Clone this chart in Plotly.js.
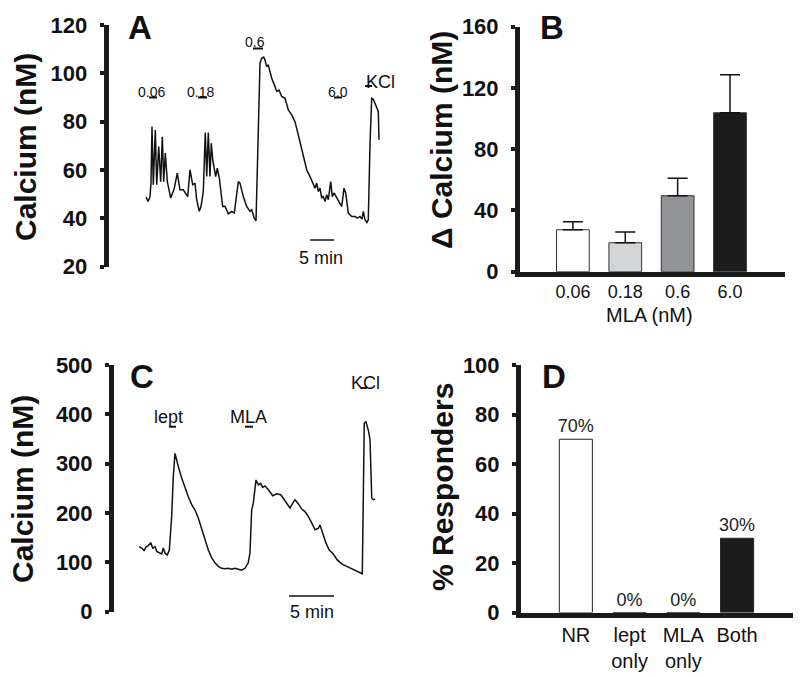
<!DOCTYPE html>
<html><head><meta charset="utf-8">
<script src="https://cdn.plot.ly/plotly-3.0.1.min.js"></script>
<style>html,body{margin:0;padding:0;background:#fff}#chart{width:800px;height:677px}</style>
</head><body><div id="chart"></div>
<script>
// ---- Panel A: calcium trace (time in min, calcium in nM)
const timeA = [0, 0.42, 0.83, 1.04, 1.25, 1.52, 1.94, 2.23, 2.65, 3.06, 3.40, 3.69, 4.02, 4.44, 5.15, 5.90, 6.52, 7.08, 7.77, 8.69,
  9.17, 9.73, 10.21, 10.56, 11.10, 11.46, 11.94, 12.35, 12.65, 12.98, 13.33, 13.60, 13.90, 14.17, 14.52, 14.85, 15.27, 15.98, 16.46, 17.15,
  17.85, 18.40, 18.90, 19.23, 19.58, 20.27, 20.98, 21.67, 22.02, 22.56, 22.92, 23.40, 23.75, 24.10, 24.52, 24.79, 25.15, 25.48, 26.19, 26.88,
  27.23, 27.71, 28.27, 28.96, 29.65, 30.35, 31.04, 31.73, 32.44, 33.13, 33.48, 34.17, 34.85, 35.21, 35.56, 35.90, 36.25, 36.60, 36.94, 37.29,
  37.65, 37.98, 38.48, 38.81, 39.17, 39.73, 40.27, 40.77, 41.25, 41.60, 42.15, 42.85, 43.54, 44.02, 44.58, 45.00, 45.27, 45.63, 46.02, 46.31,
  46.67, 47.02, 47.35, 47.71, 48.06, 48.40, 48.54];
const calciumA = [48.8, 47.0, 48.9, 54.6, 78.0, 53.9, 76.6, 53.9, 69.7, 55.2, 73.8, 55.2, 67.0, 55.2, 48.4, 52.5, 58.7, 51.8, 51.8, 49.0,
  60.1, 53.9, 54.6, 47.7, 42.9, 44.9, 51.1, 75.5, 57.3, 75.5, 57.3, 71.1, 64.2, 61.4, 57.3, 60.8, 56.7, 44.9, 45.0, 41.9,
  42.9, 42.2, 49.0, 55.2, 54.6, 49.0, 44.9, 42.9, 43.6, 40.1, 39.0, 80.7, 104.2, 106.2, 106.7, 105.5, 102.8, 103.5, 98.0, 94.5,
  92.5, 93.1, 90.4, 89.7, 84.9, 82.8, 80.0, 74.5, 69.0, 63.5, 60.1, 57.3, 53.9, 52.5, 54.6, 51.1, 52.5, 48.4, 49.0, 47.0,
  49.8, 47.7, 55.2, 49.0, 50.5, 48.4, 47.0, 44.9, 52.5, 50.5, 42.2, 40.8, 40.8, 40.1, 40.8, 39.7, 42.9, 39.4, 38.3, 39.4,
  71.1, 89.7, 89.3, 87.6, 86.2, 84.2, 72.5];
const ticksA = [20, 40, 60, 80, 100, 120];

// ---- Panel B: delta calcium vs MLA dose
const mlaDoses = ['0.06', '0.18', '0.6', '6.0'];
const deltaCalcium = [27.4, 18.9, 49.6, 103.8];
const deltaCalciumErr = [5.2, 7.1, 11.4, 24.8];
const barColorsB = ['#ffffff', '#d3d4d6', '#929396', '#1c1c1c'];
const ticksB = [0, 40, 80, 120, 160];

// ---- Panel C: calcium trace
const timeC = [0, 0.30, 0.56, 0.78, 1.03, 1.30, 1.52, 1.78, 1.97, 2.26, 2.52, 2.70, 2.89, 3.14, 3.37, 3.63, 3.81, 4.00, 4.19, 4.37,
  4.74, 5.11, 5.48, 5.86, 6.22, 6.59, 6.97, 7.33, 7.70, 8.08, 8.44, 8.81, 9.19, 9.56, 9.92, 10.30, 10.67, 11.03, 11.41, 11.78,
  12.14, 12.33, 12.52, 12.70, 13.00, 13.26, 13.52, 13.74, 14.00, 14.37, 14.86, 15.30, 15.74, 16.03, 16.41, 16.78, 17.08, 17.33, 17.70, 18.08,
  18.44, 18.81, 19.19, 19.56, 19.92, 20.11, 20.41, 20.78, 21.14, 21.59, 22.03, 22.52, 23.08, 23.63, 24.11, 24.56, 24.81, 24.92, 25.03, 25.22,
  25.37, 25.52, 25.67, 25.74, 25.86, 26.03, 26.22];
const calciumC = [132, 129, 124, 131, 134, 140, 129, 132, 122, 119, 117, 129, 119, 115, 125, 193, 274, 321, 304, 294,
  271, 250, 233, 217, 206, 190, 166, 146, 125, 109, 99, 92, 88, 87, 88, 86, 88, 86, 84, 88,
  99, 119, 206, 220, 267, 257, 260, 252, 255, 247, 235, 239, 237, 230, 219, 210, 220, 227, 219, 208,
  203, 193, 180, 166, 169, 176, 159, 139, 125, 117, 105, 97, 92, 87, 82, 78, 77, 227, 382, 385,
  375, 365, 348, 294, 230, 227, 228];
const ticksC = [0, 100, 200, 300, 400, 500];

// ---- Panel D: % responders
const responderGroups = ['NR', 'lept<br>only', 'MLA<br>only', 'Both'];
const responderPct = [70, 0, 0, 30];
const responderLabels = ['70%', '0%', '0%', '30%'];
const barColorsD = ['#ffffff', '#ffffff', '#ffffff', '#1c1c1c'];
const ticksD = [0, 20, 40, 60, 80, 100];

// ---- helpers (pixel -> paper)
const W = 800, H = 677;
const fx = p => p / W;
const fy = p => 1 - p / H;
const FONT = 'Liberation Sans, Arial, Helvetica, sans-serif';

const traces = [
  {type: 'scatter', mode: 'lines', x: timeA, y: calciumA, xaxis: 'x', yaxis: 'y',
   line: {color: '#111', width: 1.5}, hoverinfo: 'skip'},
  {type: 'bar', x: mlaDoses, y: deltaCalcium, xaxis: 'x2', yaxis: 'y2', width: 0.625,
   marker: {color: barColorsB, line: {color: '#333', width: 1}},
   error_y: {type: 'data', symmetric: false, array: deltaCalciumErr, arrayminus: [0, 0, 0, 0],
             color: '#111', thickness: 1.5, width: 10}},
  {type: 'scatter', mode: 'lines', x: timeC, y: calciumC, xaxis: 'x3', yaxis: 'y3',
   line: {color: '#111', width: 1.5}, hoverinfo: 'skip'},
  {type: 'bar', x: responderGroups, y: responderPct, xaxis: 'x4', yaxis: 'y4', width: 0.615,
   marker: {color: barColorsD, line: {color: '#222', width: 1}},
   text: responderLabels, textposition: 'outside', constraintext: 'none', cliponaxis: false,
   textfont: {family: FONT, size: 18, color: '#222'}}
];

function yax(domainPx, range, tickvals, anchor) {
  return {domain: [fy(domainPx[1]), fy(domainPx[0])], range: range, anchor: anchor,
    // long invisible major ticks push labels out; short visible minor ticks are drawn
    tickvals: tickvals, ticks: 'outside', ticklen: 12, tickwidth: 4, tickcolor: 'rgba(255,255,255,0)',
    minor: {tickvals: tickvals, ticks: 'outside', ticklen: 4, tickwidth: 4, tickcolor: '#1a1a1a', showgrid: false},
    showline: true, linewidth: 5, linecolor: '#1a1a1a', showgrid: false, zeroline: false,
    tickfont: {family: FONT, size: 22, color: '#111', weight: 'bold'}};
}

const layout = {
  width: W, height: H, margin: {l: 0, r: 0, t: 0, b: 0},
  paper_bgcolor: '#fff', plot_bgcolor: 'rgba(0,0,0,0)', showlegend: false, bargap: 0,
  font: {family: FONT, color: '#111'},
  xaxis: {domain: [fx(108.7), fx(392)], range: [(108.7 - 146) / 4.8, (392 - 146) / 4.8], visible: false, anchor: 'y'},
  yaxis: yax([25, 266.7], [20, 120], ticksA, 'x'),
  xaxis2: {domain: [fx(520), fx(785)], range: [-1.01, 4.05], anchor: 'y2', type: 'category',
    showline: true, linewidth: 5, linecolor: '#1a1a1a', ticks: '', showgrid: false, zeroline: false,
    tickfont: {family: FONT, size: 18, color: '#111'}},
  yaxis2: yax([26.7, 271.7], [0, 160], ticksB, 'x2'),
  xaxis3: {domain: [fx(114), fx(392)], range: [(114 - 139) / 9, (392 - 139) / 9], visible: false, anchor: 'y3'},
  yaxis3: yax([365, 611.7], [0, 500], ticksC, 'x3'),
  xaxis4: {domain: [fx(521), fx(793)], range: [-1.02, 4.04], anchor: 'y4', type: 'category',
    showline: true, linewidth: 5, linecolor: '#1a1a1a', ticks: '', showgrid: false, zeroline: false,
    tickfont: {family: FONT, size: 20, color: '#111'}},
  yaxis4: yax([365, 612.5], [0, 100], ticksD, 'x4'),
  annotations: [],
  shapes: []
};

function ann(text, x, y, size, bold, angle) {
  layout.annotations.push({text: text, xref: 'paper', yref: 'paper', x: fx(x), y: fy(y),
    xanchor: 'center', yanchor: 'middle', showarrow: false, textangle: angle || 0,
    font: {family: FONT, size: size, color: '#111', weight: bold ? 'bold' : 'normal'}});
}
function seg(x0, x1, y, w) {
  layout.shapes.push({type: 'line', xref: 'paper', yref: 'paper', x0: fx(x0), x1: fx(x1), y0: fy(y), y1: fy(y),
    line: {color: '#111', width: w || 2}});
}

// panel letters
ann('A', 140, 27, 33, true); ann('B', 552, 27, 33, true);
ann('C', 142, 376, 33, true); ann('D', 554, 376, 33, true);
// axis titles
ann('Calcium (nM)', 26, 147, 30, true, -90);
ann('Δ Calcium (nM)', 441, 140, 30, true, -90);
ann('Calcium (nM)', 22, 489, 30, true, -90);
ann('% Responders', 442, 487, 30, true, -90);
ann('MLA (nM)', 649, 315, 20, false);
// panel A drug labels
ann('0.06', 151, 91.5, 14); seg(149, 157, 97.5, 2);
ann('0.18', 200, 91.5, 14); seg(198, 207, 97.5, 2);
ann('0.6', 255, 41.7, 14); seg(253, 263, 48.5, 2);
ann('6.0', 338, 91.5, 14); seg(334, 342, 97.5, 2);
ann('KCl', 380, 81.7, 18); seg(365, 372, 86, 2);
// panel C drug labels
ann('lept', 168.7, 416.7, 18); seg(169, 176, 426.7, 2);
ann('MLA', 248.8, 416.7, 18); seg(245, 253, 426.7, 2);
ann('KCl', 365, 383, 18); seg(361, 367, 388, 2);
// scale bars (5 min in data units)
layout.shapes.push({type: 'line', xref: 'x', yref: 'paper', x0: 34.2, x1: 39.2, y0: fy(240), y1: fy(240), line: {color: '#111', width: 1.5}});
ann('5 min', 321, 257.7, 18);
layout.shapes.push({type: 'line', xref: 'x3', yref: 'paper', x0: 16.67, x1: 21.67, y0: fy(596), y1: fy(596), line: {color: '#111', width: 1.5}});
ann('5 min', 312, 612, 18);

Plotly.newPlot('chart', traces, layout, {staticPlot: true});
</script></body></html>
